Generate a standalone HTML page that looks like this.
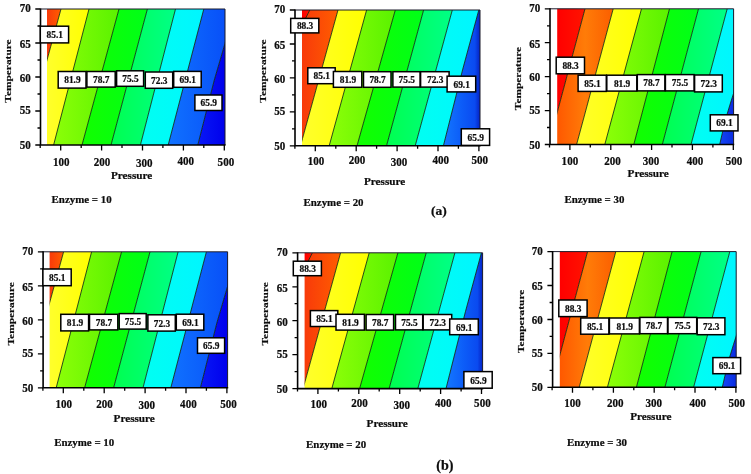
<!DOCTYPE html>
<html><head><meta charset="utf-8"><title>Contour plots</title>
<style>
html,body{margin:0;padding:0;background:#fff;}
svg{display:block;}
text{font-family:"Liberation Serif",serif;font-weight:bold;fill:#0c0c0c;stroke:#0c0c0c;stroke-width:0.22px;}
svg{will-change:transform;}
.t{font-size:11.5px;}
.a{font-size:11.2px;}
.l{font-size:9.9px;}
.y{font-size:11.4px;}
.e{font-size:10.9px;}
.c{font-size:13.5px;}
</style></head><body>
<svg width="751" height="474" viewBox="0 0 751 474">
<rect width="751" height="474" fill="#fff"/>
<defs>
<clipPath id="cp1a"><rect x="47" y="9" width="178" height="136"/></clipPath>
<linearGradient id="gp1a0" gradientUnits="userSpaceOnUse" x1="47" y1="0" x2="61" y2="0"><stop offset="0%" stop-color="#f83a0a"/><stop offset="100%" stop-color="#ff5e00"/></linearGradient>
<linearGradient id="gp1a1" gradientUnits="userSpaceOnUse" x1="47" y1="0" x2="89" y2="0"><stop offset="0%" stop-color="#ffff2c"/><stop offset="100%" stop-color="#ffff00"/></linearGradient>
<linearGradient id="gp1a2" gradientUnits="userSpaceOnUse" x1="53.6" y1="0" x2="119" y2="0"><stop offset="0%" stop-color="#8cff08"/><stop offset="100%" stop-color="#5af200"/></linearGradient>
<linearGradient id="gp1a3" gradientUnits="userSpaceOnUse" x1="82" y1="0" x2="147.4" y2="0"><stop offset="0%" stop-color="#12ff00"/><stop offset="100%" stop-color="#00ff18"/></linearGradient>
<linearGradient id="gp1a4" gradientUnits="userSpaceOnUse" x1="111" y1="0" x2="175.5" y2="0"><stop offset="0%" stop-color="#00ff50"/><stop offset="100%" stop-color="#00ff86"/></linearGradient>
<linearGradient id="gp1a5" gradientUnits="userSpaceOnUse" x1="140.4" y1="0" x2="203.8" y2="0"><stop offset="0%" stop-color="#00fff2"/><stop offset="100%" stop-color="#00f6ff"/></linearGradient>
<linearGradient id="gp1a6" gradientUnits="userSpaceOnUse" x1="168.2" y1="0" x2="225" y2="0"><stop offset="0%" stop-color="#1072ff"/><stop offset="100%" stop-color="#0850f8"/></linearGradient>
<linearGradient id="gp1a7" gradientUnits="userSpaceOnUse" x1="197.8" y1="0" x2="225" y2="0"><stop offset="0%" stop-color="#0818f6"/><stop offset="100%" stop-color="#0000ec"/></linearGradient>
<clipPath id="cp2a"><rect x="302" y="10" width="178" height="135.8"/></clipPath>
<linearGradient id="gp2a0" gradientUnits="userSpaceOnUse" x1="302" y1="0" x2="309.8" y2="0"><stop offset="0%" stop-color="#ff0000"/><stop offset="100%" stop-color="#ff1400"/></linearGradient>
<linearGradient id="gp2a1" gradientUnits="userSpaceOnUse" x1="302" y1="0" x2="338" y2="0"><stop offset="0%" stop-color="#f83a0a"/><stop offset="100%" stop-color="#ff5e00"/></linearGradient>
<linearGradient id="gp2a2" gradientUnits="userSpaceOnUse" x1="302" y1="0" x2="366.6" y2="0"><stop offset="0%" stop-color="#ffff2c"/><stop offset="100%" stop-color="#ffff00"/></linearGradient>
<linearGradient id="gp2a3" gradientUnits="userSpaceOnUse" x1="329.2" y1="0" x2="395.3" y2="0"><stop offset="0%" stop-color="#8cff08"/><stop offset="100%" stop-color="#5af200"/></linearGradient>
<linearGradient id="gp2a4" gradientUnits="userSpaceOnUse" x1="357" y1="0" x2="423.6" y2="0"><stop offset="0%" stop-color="#12ff00"/><stop offset="100%" stop-color="#00ff18"/></linearGradient>
<linearGradient id="gp2a5" gradientUnits="userSpaceOnUse" x1="386.5" y1="0" x2="452.3" y2="0"><stop offset="0%" stop-color="#00ff50"/><stop offset="100%" stop-color="#00ff86"/></linearGradient>
<linearGradient id="gp2a6" gradientUnits="userSpaceOnUse" x1="415.2" y1="0" x2="478.8" y2="0"><stop offset="0%" stop-color="#00fff2"/><stop offset="100%" stop-color="#00f6ff"/></linearGradient>
<linearGradient id="gp2a7" gradientUnits="userSpaceOnUse" x1="443.4" y1="0" x2="480" y2="0"><stop offset="0%" stop-color="#1478ff"/><stop offset="50%" stop-color="#0c5cf8"/><stop offset="86%" stop-color="#0a4af0"/><stop offset="100%" stop-color="#0422c4"/></linearGradient>
<clipPath id="cp3a"><rect x="557.2" y="8.8" width="176.4" height="135.7"/></clipPath>
<linearGradient id="gp3a0" gradientUnits="userSpaceOnUse" x1="557.2" y1="0" x2="585" y2="0"><stop offset="0%" stop-color="#ff0000"/><stop offset="100%" stop-color="#ff1400"/></linearGradient>
<linearGradient id="gp3a1" gradientUnits="userSpaceOnUse" x1="557.2" y1="0" x2="613.2" y2="0"><stop offset="0%" stop-color="#ff5800"/><stop offset="50%" stop-color="#ff7c08"/><stop offset="100%" stop-color="#fb5e00"/></linearGradient>
<linearGradient id="gp3a2" gradientUnits="userSpaceOnUse" x1="576.6" y1="0" x2="641.5" y2="0"><stop offset="0%" stop-color="#ffff2c"/><stop offset="100%" stop-color="#ffff00"/></linearGradient>
<linearGradient id="gp3a3" gradientUnits="userSpaceOnUse" x1="604.8" y1="0" x2="669.5" y2="0"><stop offset="0%" stop-color="#8cff08"/><stop offset="100%" stop-color="#5af200"/></linearGradient>
<linearGradient id="gp3a4" gradientUnits="userSpaceOnUse" x1="633.8" y1="0" x2="698.5" y2="0"><stop offset="0%" stop-color="#12ff00"/><stop offset="100%" stop-color="#00ff18"/></linearGradient>
<linearGradient id="gp3a5" gradientUnits="userSpaceOnUse" x1="662.3" y1="0" x2="727.2" y2="0"><stop offset="0%" stop-color="#00ff50"/><stop offset="100%" stop-color="#00ff86"/></linearGradient>
<linearGradient id="gp3a6" gradientUnits="userSpaceOnUse" x1="691" y1="0" x2="733.6" y2="0"><stop offset="0%" stop-color="#00fff2"/><stop offset="100%" stop-color="#00f6ff"/></linearGradient>
<linearGradient id="gp3a7" gradientUnits="userSpaceOnUse" x1="719.7" y1="0" x2="733.6" y2="0"><stop offset="0%" stop-color="#1446f4"/><stop offset="100%" stop-color="#0a2ce2"/></linearGradient>
<clipPath id="cp1b"><rect x="49.6" y="251.8" width="178" height="136"/></clipPath>
<linearGradient id="gp1b0" gradientUnits="userSpaceOnUse" x1="49.6" y1="0" x2="63.6" y2="0"><stop offset="0%" stop-color="#f83a0a"/><stop offset="100%" stop-color="#ff5e00"/></linearGradient>
<linearGradient id="gp1b1" gradientUnits="userSpaceOnUse" x1="49.6" y1="0" x2="91.6" y2="0"><stop offset="0%" stop-color="#ffff2c"/><stop offset="100%" stop-color="#ffff00"/></linearGradient>
<linearGradient id="gp1b2" gradientUnits="userSpaceOnUse" x1="56.2" y1="0" x2="121.6" y2="0"><stop offset="0%" stop-color="#8cff08"/><stop offset="100%" stop-color="#5af200"/></linearGradient>
<linearGradient id="gp1b3" gradientUnits="userSpaceOnUse" x1="84.6" y1="0" x2="150" y2="0"><stop offset="0%" stop-color="#12ff00"/><stop offset="100%" stop-color="#00ff18"/></linearGradient>
<linearGradient id="gp1b4" gradientUnits="userSpaceOnUse" x1="113.6" y1="0" x2="178.1" y2="0"><stop offset="0%" stop-color="#00ff50"/><stop offset="100%" stop-color="#00ff86"/></linearGradient>
<linearGradient id="gp1b5" gradientUnits="userSpaceOnUse" x1="143" y1="0" x2="206.4" y2="0"><stop offset="0%" stop-color="#00fff2"/><stop offset="100%" stop-color="#00f6ff"/></linearGradient>
<linearGradient id="gp1b6" gradientUnits="userSpaceOnUse" x1="170.8" y1="0" x2="227.6" y2="0"><stop offset="0%" stop-color="#1072ff"/><stop offset="100%" stop-color="#0850f8"/></linearGradient>
<linearGradient id="gp1b7" gradientUnits="userSpaceOnUse" x1="200.4" y1="0" x2="227.6" y2="0"><stop offset="0%" stop-color="#0818f6"/><stop offset="100%" stop-color="#0000ec"/></linearGradient>
<clipPath id="cp2b"><rect x="304.6" y="252.8" width="178" height="135.8"/></clipPath>
<linearGradient id="gp2b0" gradientUnits="userSpaceOnUse" x1="304.6" y1="0" x2="312.4" y2="0"><stop offset="0%" stop-color="#ff0000"/><stop offset="100%" stop-color="#ff1400"/></linearGradient>
<linearGradient id="gp2b1" gradientUnits="userSpaceOnUse" x1="304.6" y1="0" x2="340.6" y2="0"><stop offset="0%" stop-color="#f83a0a"/><stop offset="100%" stop-color="#ff5e00"/></linearGradient>
<linearGradient id="gp2b2" gradientUnits="userSpaceOnUse" x1="304.6" y1="0" x2="369.2" y2="0"><stop offset="0%" stop-color="#ffff2c"/><stop offset="100%" stop-color="#ffff00"/></linearGradient>
<linearGradient id="gp2b3" gradientUnits="userSpaceOnUse" x1="331.8" y1="0" x2="397.9" y2="0"><stop offset="0%" stop-color="#8cff08"/><stop offset="100%" stop-color="#5af200"/></linearGradient>
<linearGradient id="gp2b4" gradientUnits="userSpaceOnUse" x1="359.6" y1="0" x2="426.2" y2="0"><stop offset="0%" stop-color="#12ff00"/><stop offset="100%" stop-color="#00ff18"/></linearGradient>
<linearGradient id="gp2b5" gradientUnits="userSpaceOnUse" x1="389.1" y1="0" x2="454.9" y2="0"><stop offset="0%" stop-color="#00ff50"/><stop offset="100%" stop-color="#00ff86"/></linearGradient>
<linearGradient id="gp2b6" gradientUnits="userSpaceOnUse" x1="417.8" y1="0" x2="481.4" y2="0"><stop offset="0%" stop-color="#00fff2"/><stop offset="100%" stop-color="#00f6ff"/></linearGradient>
<linearGradient id="gp2b7" gradientUnits="userSpaceOnUse" x1="446" y1="0" x2="482.6" y2="0"><stop offset="0%" stop-color="#1478ff"/><stop offset="50%" stop-color="#0c5cf8"/><stop offset="86%" stop-color="#0a4af0"/><stop offset="100%" stop-color="#0422c4"/></linearGradient>
<clipPath id="cp3b"><rect x="559.8" y="251.6" width="176.4" height="135.7"/></clipPath>
<linearGradient id="gp3b0" gradientUnits="userSpaceOnUse" x1="559.8" y1="0" x2="587.6" y2="0"><stop offset="0%" stop-color="#ff0000"/><stop offset="100%" stop-color="#ff1400"/></linearGradient>
<linearGradient id="gp3b1" gradientUnits="userSpaceOnUse" x1="559.8" y1="0" x2="615.8" y2="0"><stop offset="0%" stop-color="#ff5800"/><stop offset="50%" stop-color="#ff7c08"/><stop offset="100%" stop-color="#fb5e00"/></linearGradient>
<linearGradient id="gp3b2" gradientUnits="userSpaceOnUse" x1="579.2" y1="0" x2="644.1" y2="0"><stop offset="0%" stop-color="#ffff2c"/><stop offset="100%" stop-color="#ffff00"/></linearGradient>
<linearGradient id="gp3b3" gradientUnits="userSpaceOnUse" x1="607.4" y1="0" x2="672.1" y2="0"><stop offset="0%" stop-color="#8cff08"/><stop offset="100%" stop-color="#5af200"/></linearGradient>
<linearGradient id="gp3b4" gradientUnits="userSpaceOnUse" x1="636.4" y1="0" x2="701.1" y2="0"><stop offset="0%" stop-color="#12ff00"/><stop offset="100%" stop-color="#00ff18"/></linearGradient>
<linearGradient id="gp3b5" gradientUnits="userSpaceOnUse" x1="664.9" y1="0" x2="729.8" y2="0"><stop offset="0%" stop-color="#00ff50"/><stop offset="100%" stop-color="#00ff86"/></linearGradient>
<linearGradient id="gp3b6" gradientUnits="userSpaceOnUse" x1="693.6" y1="0" x2="736.2" y2="0"><stop offset="0%" stop-color="#00fff2"/><stop offset="100%" stop-color="#00f6ff"/></linearGradient>
<linearGradient id="gp3b7" gradientUnits="userSpaceOnUse" x1="722.3" y1="0" x2="736.2" y2="0"><stop offset="0%" stop-color="#1446f4"/><stop offset="100%" stop-color="#0a2ce2"/></linearGradient>
</defs>
<g clip-path="url(#cp1a)">
<polygon fill="url(#gp1a0)" points="7,150 7,4 61,9 47,60 23.7,145"/>
<polygon fill="url(#gp1a1)" points="23.7,145 47,60 61,9 89,9 53.6,145"/>
<polygon fill="url(#gp1a2)" points="53.6,145 89,9 119,9 82,145"/>
<polygon fill="url(#gp1a3)" points="82,145 119,9 147.4,9 111,145"/>
<polygon fill="url(#gp1a4)" points="111,145 147.4,9 175.5,9 140.4,145"/>
<polygon fill="url(#gp1a5)" points="140.4,145 175.5,9 203.8,9 168.2,145"/>
<polygon fill="url(#gp1a6)" points="168.2,145 203.8,9 233,9 225,43.5 214.3,80 197.8,145"/>
<polygon fill="url(#gp1a7)" points="197.8,145 214.3,80 225,43.5 233,9 285,4 285,150"/>
<polyline fill="none" stroke="#062006" stroke-opacity="0.9" stroke-width="0.9" points="23.7,145 47,60 61,9"/>
<polyline fill="none" stroke="#062006" stroke-opacity="0.9" stroke-width="0.9" points="53.6,145 89,9"/>
<polyline fill="none" stroke="#062006" stroke-opacity="0.9" stroke-width="0.9" points="82,145 119,9"/>
<polyline fill="none" stroke="#062006" stroke-opacity="0.9" stroke-width="0.9" points="111,145 147.4,9"/>
<polyline fill="none" stroke="#062006" stroke-opacity="0.9" stroke-width="0.9" points="140.4,145 175.5,9"/>
<polyline fill="none" stroke="#062006" stroke-opacity="0.9" stroke-width="0.9" points="168.2,145 203.8,9"/>
<polyline fill="none" stroke="#062006" stroke-opacity="0.9" stroke-width="0.9" points="197.8,145 214.3,80 225,43.5 233,9"/>
</g>
<path d="M40.5 9H225V145" fill="none" stroke="#1a1a2a" stroke-width="1"/>
<path d="M40.5 8.5V145H225.6" fill="none" stroke="#000" stroke-width="1.6"/>
<path d="M40.5 9h-5.2M40.5 26h-3M40.5 43h-5.2M40.5 60h-3M40.5 77h-5.2M40.5 94h-3M40.5 111h-5.2M40.5 128h-3M40.5 145h-5.2M40.2 145v3M60.7 145v5.4M81.2 145v3M101.6 145v5.4M122 145v3M142.5 145v5.4M162.9 145v3M183.4 145v5.4M203.8 145v3M224.3 145v5.4" stroke="#000" stroke-width="1.3" fill="none"/>
<text class="t" transform="translate(30.7 12.1) scale(0.96 1)" text-anchor="end">70</text>
<text class="t" transform="translate(30.7 47.8) scale(0.96 1)" text-anchor="end">65</text>
<text class="t" transform="translate(30.7 81.8) scale(0.96 1)" text-anchor="end">60</text>
<text class="t" transform="translate(30.7 114.4) scale(0.96 1)" text-anchor="end">55</text>
<text class="t" transform="translate(30.7 149) scale(0.96 1)" text-anchor="end">50</text>
<text class="t" transform="translate(61.2 165.5) scale(0.96 1)" text-anchor="middle">100</text>
<text class="t" transform="translate(102 165.5) scale(0.96 1)" text-anchor="middle">200</text>
<text class="t" transform="translate(144.2 166.5) scale(0.96 1)" text-anchor="middle">300</text>
<text class="t" transform="translate(185.8 164.7) scale(0.96 1)" text-anchor="middle">400</text>
<text class="t" transform="translate(225.9 165.5) scale(0.96 1)" text-anchor="middle">500</text>
<text class="a" x="111" y="179">Pressure</text>
<text class="y" transform="translate(11.3 71) rotate(-90) scale(1 0.8)" text-anchor="middle">Temperature</text>
<text class="e" x="51.6" y="203">Enzyme = 10</text>
<rect x="40.3" y="26.2" width="28.3" height="16.7" fill="#fff" stroke="#000" stroke-width="1.5"/>
<text class="l" transform="translate(54.8 38.1) scale(0.95 1)" text-anchor="middle">85.1</text>
<rect x="58.2" y="71.5" width="27.8" height="16.6" fill="#fff" stroke="#000" stroke-width="1.5"/>
<text class="l" transform="translate(72.4 83.4) scale(0.95 1)" text-anchor="middle">81.9</text>
<rect x="86.9" y="71.5" width="28.3" height="15.6" fill="#fff" stroke="#000" stroke-width="1.5"/>
<text class="l" transform="translate(101.3 82.9) scale(0.95 1)" text-anchor="middle">78.7</text>
<rect x="116.6" y="70.8" width="27" height="15.5" fill="#fff" stroke="#000" stroke-width="1.5"/>
<text class="l" transform="translate(130.4 82.1) scale(0.95 1)" text-anchor="middle">75.5</text>
<rect x="145.3" y="72" width="27.4" height="16.3" fill="#fff" stroke="#000" stroke-width="1.5"/>
<text class="l" transform="translate(159.3 83.8) scale(0.95 1)" text-anchor="middle">72.3</text>
<rect x="173.7" y="71.4" width="27.5" height="15.9" fill="#fff" stroke="#000" stroke-width="1.5"/>
<text class="l" transform="translate(187.8 82.9) scale(0.95 1)" text-anchor="middle">69.1</text>
<rect x="194.9" y="95" width="27.1" height="15.5" fill="#fff" stroke="#000" stroke-width="1.5"/>
<text class="l" transform="translate(208.8 106.3) scale(0.95 1)" text-anchor="middle">65.9</text>
<g clip-path="url(#cp2a)">
<polygon fill="url(#gp2a0)" points="262,150.8 262,5 309.8,10 305.5,18.5 302,30 301,33"/>
<polygon fill="url(#gp2a1)" points="301,33 302,30 305.5,18.5 309.8,10 338,10 302.5,138.5 300.5,145.8"/>
<polygon fill="url(#gp2a2)" points="300.5,145.8 302.5,138.5 338,10 366.6,10 329.2,145.8"/>
<polygon fill="url(#gp2a3)" points="329.2,145.8 366.6,10 395.3,10 357,145.8"/>
<polygon fill="url(#gp2a4)" points="357,145.8 395.3,10 423.6,10 386.5,145.8"/>
<polygon fill="url(#gp2a5)" points="386.5,145.8 423.6,10 452.3,10 415.2,145.8"/>
<polygon fill="url(#gp2a6)" points="415.2,145.8 452.3,10 478.8,10 462.8,69 443.4,145.8"/>
<polygon fill="url(#gp2a7)" points="443.4,145.8 462.8,69 478.8,10 540,5 540,150.8"/>
<polyline fill="none" stroke="#062006" stroke-opacity="0.9" stroke-width="0.9" points="301,33 302,30 305.5,18.5 309.8,10"/>
<polyline fill="none" stroke="#062006" stroke-opacity="0.9" stroke-width="0.9" points="300.5,145.8 302.5,138.5 338,10"/>
<polyline fill="none" stroke="#062006" stroke-opacity="0.9" stroke-width="0.9" points="329.2,145.8 366.6,10"/>
<polyline fill="none" stroke="#062006" stroke-opacity="0.9" stroke-width="0.9" points="357,145.8 395.3,10"/>
<polyline fill="none" stroke="#062006" stroke-opacity="0.9" stroke-width="0.9" points="386.5,145.8 423.6,10"/>
<polyline fill="none" stroke="#062006" stroke-opacity="0.9" stroke-width="0.9" points="415.2,145.8 452.3,10"/>
<polyline fill="none" stroke="#062006" stroke-opacity="0.9" stroke-width="0.9" points="443.4,145.8 462.8,69 478.8,10"/>
</g>
<path d="M295 10H480V145.8" fill="none" stroke="#1a1a2a" stroke-width="1"/>
<path d="M295 9.5V145.8H480.6" fill="none" stroke="#000" stroke-width="1.6"/>
<path d="M295 10h-5.2M295 27h-3M295 44h-5.2M295 60.9h-3M295 77.9h-5.2M295 94.9h-3M295 111.9h-5.2M295 128.8h-3M295 145.8h-5.2M294.9 145.8v3M315.3 145.8v5.4M335.8 145.8v3M356.2 145.8v5.4M376.6 145.8v3M397.1 145.8v5.4M417.6 145.8v3M438 145.8v5.4M458.4 145.8v3M478.9 145.8v5.4" stroke="#000" stroke-width="1.3" fill="none"/>
<text class="t" transform="translate(285.2 13.1) scale(0.96 1)" text-anchor="end">70</text>
<text class="t" transform="translate(285.2 48.8) scale(0.96 1)" text-anchor="end">65</text>
<text class="t" transform="translate(285.2 82.7) scale(0.96 1)" text-anchor="end">60</text>
<text class="t" transform="translate(285.2 115.3) scale(0.96 1)" text-anchor="end">55</text>
<text class="t" transform="translate(285.2 149.8) scale(0.96 1)" text-anchor="end">50</text>
<text class="t" transform="translate(316.1 164.8) scale(0.96 1)" text-anchor="middle">100</text>
<text class="t" transform="translate(357 164.4) scale(0.96 1)" text-anchor="middle">200</text>
<text class="t" transform="translate(399.1 166.1) scale(0.96 1)" text-anchor="middle">300</text>
<text class="t" transform="translate(440.7 164.3) scale(0.96 1)" text-anchor="middle">400</text>
<text class="t" transform="translate(479.8 164.4) scale(0.96 1)" text-anchor="middle">500</text>
<text class="a" x="364" y="184.5">Pressure</text>
<text class="y" transform="translate(265.9 71) rotate(-90) scale(1 0.8)" text-anchor="middle">Temperature</text>
<text class="e" x="303.5" y="205.5">Enzyme = 20</text>
<rect x="290.7" y="18.4" width="28.1" height="14.5" fill="#fff" stroke="#000" stroke-width="1.5"/>
<text class="l" transform="translate(305.1 29.2) scale(0.95 1)" text-anchor="middle">88.3</text>
<rect x="307.8" y="67.8" width="27.4" height="15.9" fill="#fff" stroke="#000" stroke-width="1.5"/>
<text class="l" transform="translate(321.8 79.3) scale(0.95 1)" text-anchor="middle">85.1</text>
<rect x="333.4" y="71.5" width="28.4" height="15.8" fill="#fff" stroke="#000" stroke-width="1.5"/>
<text class="l" transform="translate(347.9 83) scale(0.95 1)" text-anchor="middle">81.9</text>
<rect x="363.5" y="71.7" width="27.5" height="15.6" fill="#fff" stroke="#000" stroke-width="1.5"/>
<text class="l" transform="translate(377.6 83.1) scale(0.95 1)" text-anchor="middle">78.7</text>
<rect x="392.9" y="71.7" width="27.2" height="15.4" fill="#fff" stroke="#000" stroke-width="1.5"/>
<text class="l" transform="translate(406.8 83) scale(0.95 1)" text-anchor="middle">75.5</text>
<rect x="420.6" y="71.7" width="28.5" height="15.4" fill="#fff" stroke="#000" stroke-width="1.5"/>
<text class="l" transform="translate(435.2 83) scale(0.95 1)" text-anchor="middle">72.3</text>
<rect x="447.1" y="76.2" width="28.6" height="15.7" fill="#fff" stroke="#000" stroke-width="1.5"/>
<text class="l" transform="translate(461.7 87.6) scale(0.95 1)" text-anchor="middle">69.1</text>
<rect x="461.3" y="128.8" width="28.3" height="16.6" fill="#fff" stroke="#000" stroke-width="1.5"/>
<text class="l" transform="translate(475.8 140.7) scale(0.95 1)" text-anchor="middle">65.9</text>
<g clip-path="url(#cp3a)">
<polygon fill="url(#gp3a0)" points="517.2,149.5 517.2,3.8 585,8.8 557.5,111.3 548.6,144.5"/>
<polygon fill="url(#gp3a1)" points="548.6,144.5 557.5,111.3 585,8.8 613.2,8.8 576.6,144.5"/>
<polygon fill="url(#gp3a2)" points="576.6,144.5 613.2,8.8 641.5,8.8 604.8,144.5"/>
<polygon fill="url(#gp3a3)" points="604.8,144.5 641.5,8.8 669.5,8.8 633.8,144.5"/>
<polygon fill="url(#gp3a4)" points="633.8,144.5 669.5,8.8 698.5,8.8 662.3,144.5"/>
<polygon fill="url(#gp3a5)" points="662.3,144.5 698.5,8.8 727.2,8.8 691,144.5"/>
<polygon fill="url(#gp3a6)" points="691,144.5 727.2,8.8 758,8.8 733.6,93.3 730.8,102 727.1,114.2 722.7,131.4 719.7,144.5"/>
<polygon fill="url(#gp3a7)" points="719.7,144.5 722.7,131.4 727.1,114.2 730.8,102 733.6,93.3 758,8.8 793.6,3.8 793.6,149.5"/>
<polyline fill="none" stroke="#062006" stroke-opacity="0.9" stroke-width="0.9" points="548.6,144.5 557.5,111.3 585,8.8"/>
<polyline fill="none" stroke="#062006" stroke-opacity="0.9" stroke-width="0.9" points="576.6,144.5 613.2,8.8"/>
<polyline fill="none" stroke="#062006" stroke-opacity="0.9" stroke-width="0.9" points="604.8,144.5 641.5,8.8"/>
<polyline fill="none" stroke="#062006" stroke-opacity="0.9" stroke-width="0.9" points="633.8,144.5 669.5,8.8"/>
<polyline fill="none" stroke="#062006" stroke-opacity="0.9" stroke-width="0.9" points="662.3,144.5 698.5,8.8"/>
<polyline fill="none" stroke="#062006" stroke-opacity="0.9" stroke-width="0.9" points="691,144.5 727.2,8.8"/>
<polyline fill="none" stroke="#062006" stroke-opacity="0.9" stroke-width="0.9" points="719.7,144.5 722.7,131.4 727.1,114.2 730.8,102 733.6,93.3 758,8.8"/>
</g>
<path d="M550 8.8H733.6V144.5" fill="none" stroke="#1a1a2a" stroke-width="1"/>
<path d="M550 8.3V144.5H734.2" fill="none" stroke="#000" stroke-width="1.6"/>
<path d="M550 8.8h-5.2M550 25.8h-3M550 42.7h-5.2M550 59.7h-3M550 76.6h-5.2M550 93.6h-3M550 110.6h-5.2M550 127.5h-3M550 144.5h-5.2M549.5 144.5v3M569.9 144.5v5.4M590.3 144.5v3M610.8 144.5v5.4M631.2 144.5v3M651.6 144.5v5.4M672 144.5v3M692.4 144.5v5.4M712.9 144.5v3M733.3 144.5v5.4" stroke="#000" stroke-width="1.3" fill="none"/>
<text class="t" transform="translate(540.2 11.9) scale(0.96 1)" text-anchor="end">70</text>
<text class="t" transform="translate(540.2 47.5) scale(0.96 1)" text-anchor="end">65</text>
<text class="t" transform="translate(540.2 81.4) scale(0.96 1)" text-anchor="end">60</text>
<text class="t" transform="translate(540.2 114) scale(0.96 1)" text-anchor="end">55</text>
<text class="t" transform="translate(540.2 148.5) scale(0.96 1)" text-anchor="end">50</text>
<text class="t" transform="translate(569.9 164.6) scale(0.96 1)" text-anchor="middle">100</text>
<text class="t" transform="translate(612.6 164.6) scale(0.96 1)" text-anchor="middle">200</text>
<text class="t" transform="translate(651.1 164.6) scale(0.96 1)" text-anchor="middle">300</text>
<text class="t" transform="translate(695.1 164.6) scale(0.96 1)" text-anchor="middle">400</text>
<text class="t" transform="translate(734.1 164.6) scale(0.96 1)" text-anchor="middle">500</text>
<text class="a" x="627.6" y="176.8">Pressure</text>
<text class="y" transform="translate(521.4 78.5) rotate(-90) scale(1 0.8)" text-anchor="middle">Temperature</text>
<text class="e" x="564.4" y="203.1">Enzyme = 30</text>
<rect x="556.2" y="57.2" width="28.3" height="16.6" fill="#fff" stroke="#000" stroke-width="1.5"/>
<text class="l" transform="translate(570.6 69.1) scale(0.95 1)" text-anchor="middle">88.3</text>
<rect x="578.1" y="75.2" width="28.2" height="16.2" fill="#fff" stroke="#000" stroke-width="1.5"/>
<text class="l" transform="translate(592.5 86.9) scale(0.95 1)" text-anchor="middle">85.1</text>
<rect x="606.8" y="75.2" width="30" height="15.9" fill="#fff" stroke="#000" stroke-width="1.5"/>
<text class="l" transform="translate(622.1 86.8) scale(0.95 1)" text-anchor="middle">81.9</text>
<rect x="637.3" y="74.6" width="27.6" height="16.3" fill="#fff" stroke="#000" stroke-width="1.5"/>
<text class="l" transform="translate(651.4 86.3) scale(0.95 1)" text-anchor="middle">78.7</text>
<rect x="665.4" y="74.6" width="28.7" height="16.3" fill="#fff" stroke="#000" stroke-width="1.5"/>
<text class="l" transform="translate(680 86.3) scale(0.95 1)" text-anchor="middle">75.5</text>
<rect x="694.6" y="75" width="27.7" height="16.9" fill="#fff" stroke="#000" stroke-width="1.5"/>
<text class="l" transform="translate(708.8 87) scale(0.95 1)" text-anchor="middle">72.3</text>
<rect x="710.3" y="114.8" width="27.7" height="16.1" fill="#fff" stroke="#000" stroke-width="1.5"/>
<text class="l" transform="translate(724.5 126.4) scale(0.95 1)" text-anchor="middle">69.1</text>
<g clip-path="url(#cp1b)">
<polygon fill="url(#gp1b0)" points="9.6,392.8 9.6,246.8 63.6,251.8 49.6,302.8 26.3,387.8"/>
<polygon fill="url(#gp1b1)" points="26.3,387.8 49.6,302.8 63.6,251.8 91.6,251.8 56.2,387.8"/>
<polygon fill="url(#gp1b2)" points="56.2,387.8 91.6,251.8 121.6,251.8 84.6,387.8"/>
<polygon fill="url(#gp1b3)" points="84.6,387.8 121.6,251.8 150,251.8 113.6,387.8"/>
<polygon fill="url(#gp1b4)" points="113.6,387.8 150,251.8 178.1,251.8 143,387.8"/>
<polygon fill="url(#gp1b5)" points="143,387.8 178.1,251.8 206.4,251.8 170.8,387.8"/>
<polygon fill="url(#gp1b6)" points="170.8,387.8 206.4,251.8 235.6,251.8 227.6,286.3 216.9,322.8 200.4,387.8"/>
<polygon fill="url(#gp1b7)" points="200.4,387.8 216.9,322.8 227.6,286.3 235.6,251.8 287.6,246.8 287.6,392.8"/>
<polyline fill="none" stroke="#062006" stroke-opacity="0.9" stroke-width="0.9" points="26.3,387.8 49.6,302.8 63.6,251.8"/>
<polyline fill="none" stroke="#062006" stroke-opacity="0.9" stroke-width="0.9" points="56.2,387.8 91.6,251.8"/>
<polyline fill="none" stroke="#062006" stroke-opacity="0.9" stroke-width="0.9" points="84.6,387.8 121.6,251.8"/>
<polyline fill="none" stroke="#062006" stroke-opacity="0.9" stroke-width="0.9" points="113.6,387.8 150,251.8"/>
<polyline fill="none" stroke="#062006" stroke-opacity="0.9" stroke-width="0.9" points="143,387.8 178.1,251.8"/>
<polyline fill="none" stroke="#062006" stroke-opacity="0.9" stroke-width="0.9" points="170.8,387.8 206.4,251.8"/>
<polyline fill="none" stroke="#062006" stroke-opacity="0.9" stroke-width="0.9" points="200.4,387.8 216.9,322.8 227.6,286.3 235.6,251.8"/>
</g>
<path d="M43.1 251.8H227.6V387.8" fill="none" stroke="#1a1a2a" stroke-width="1"/>
<path d="M43.1 251.3V387.8H228.2" fill="none" stroke="#000" stroke-width="1.6"/>
<path d="M43.1 251.8h-5.2M43.1 268.8h-3M43.1 285.8h-5.2M43.1 302.8h-3M43.1 319.8h-5.2M43.1 336.8h-3M43.1 353.8h-5.2M43.1 370.8h-3M43.1 387.8h-5.2M42.9 387.8v3M63.3 387.8v5.4M83.8 387.8v3M104.2 387.8v5.4M124.7 387.8v3M145.1 387.8v5.4M165.6 387.8v3M186 387.8v5.4M206.4 387.8v3M226.9 387.8v5.4" stroke="#000" stroke-width="1.3" fill="none"/>
<text class="t" transform="translate(33.3 254.9) scale(0.96 1)" text-anchor="end">70</text>
<text class="t" transform="translate(33.3 290.6) scale(0.96 1)" text-anchor="end">65</text>
<text class="t" transform="translate(33.3 324.6) scale(0.96 1)" text-anchor="end">60</text>
<text class="t" transform="translate(33.3 357.2) scale(0.96 1)" text-anchor="end">55</text>
<text class="t" transform="translate(33.3 391.8) scale(0.96 1)" text-anchor="end">50</text>
<text class="t" transform="translate(63.8 408.3) scale(0.96 1)" text-anchor="middle">100</text>
<text class="t" transform="translate(104.6 408.3) scale(0.96 1)" text-anchor="middle">200</text>
<text class="t" transform="translate(146.8 409.3) scale(0.96 1)" text-anchor="middle">300</text>
<text class="t" transform="translate(188.4 407.5) scale(0.96 1)" text-anchor="middle">400</text>
<text class="t" transform="translate(228.5 408.3) scale(0.96 1)" text-anchor="middle">500</text>
<text class="a" x="113.6" y="421.8">Pressure</text>
<text class="y" transform="translate(13.6 313.8) rotate(-90) scale(1 0.8)" text-anchor="middle">Temperature</text>
<text class="e" x="54.2" y="445.8">Enzyme = 10</text>
<rect x="42.9" y="269" width="28.3" height="16.7" fill="#fff" stroke="#000" stroke-width="1.5"/>
<text class="l" transform="translate(57.3 281) scale(0.95 1)" text-anchor="middle">85.1</text>
<rect x="60.8" y="314.3" width="27.8" height="16.6" fill="#fff" stroke="#000" stroke-width="1.5"/>
<text class="l" transform="translate(75 326.2) scale(0.95 1)" text-anchor="middle">81.9</text>
<rect x="89.5" y="314.3" width="28.3" height="15.6" fill="#fff" stroke="#000" stroke-width="1.5"/>
<text class="l" transform="translate(104 325.7) scale(0.95 1)" text-anchor="middle">78.7</text>
<rect x="119.2" y="313.6" width="27" height="15.5" fill="#fff" stroke="#000" stroke-width="1.5"/>
<text class="l" transform="translate(133 325) scale(0.95 1)" text-anchor="middle">75.5</text>
<rect x="147.9" y="314.8" width="27.4" height="16.3" fill="#fff" stroke="#000" stroke-width="1.5"/>
<text class="l" transform="translate(161.9 326.6) scale(0.95 1)" text-anchor="middle">72.3</text>
<rect x="176.3" y="314.2" width="27.5" height="15.9" fill="#fff" stroke="#000" stroke-width="1.5"/>
<text class="l" transform="translate(190.4 325.8) scale(0.95 1)" text-anchor="middle">69.1</text>
<rect x="197.5" y="337.8" width="27.1" height="15.5" fill="#fff" stroke="#000" stroke-width="1.5"/>
<text class="l" transform="translate(211.3 349.2) scale(0.95 1)" text-anchor="middle">65.9</text>
<g clip-path="url(#cp2b)">
<polygon fill="url(#gp2b0)" points="264.6,393.6 264.6,247.8 312.4,252.8 308.1,261.3 304.6,272.8 303.6,275.8"/>
<polygon fill="url(#gp2b1)" points="303.6,275.8 304.6,272.8 308.1,261.3 312.4,252.8 340.6,252.8 305.1,381.3 303.1,388.6"/>
<polygon fill="url(#gp2b2)" points="303.1,388.6 305.1,381.3 340.6,252.8 369.2,252.8 331.8,388.6"/>
<polygon fill="url(#gp2b3)" points="331.8,388.6 369.2,252.8 397.9,252.8 359.6,388.6"/>
<polygon fill="url(#gp2b4)" points="359.6,388.6 397.9,252.8 426.2,252.8 389.1,388.6"/>
<polygon fill="url(#gp2b5)" points="389.1,388.6 426.2,252.8 454.9,252.8 417.8,388.6"/>
<polygon fill="url(#gp2b6)" points="417.8,388.6 454.9,252.8 481.4,252.8 465.4,311.8 446,388.6"/>
<polygon fill="url(#gp2b7)" points="446,388.6 465.4,311.8 481.4,252.8 542.6,247.8 542.6,393.6"/>
<polyline fill="none" stroke="#062006" stroke-opacity="0.9" stroke-width="0.9" points="303.6,275.8 304.6,272.8 308.1,261.3 312.4,252.8"/>
<polyline fill="none" stroke="#062006" stroke-opacity="0.9" stroke-width="0.9" points="303.1,388.6 305.1,381.3 340.6,252.8"/>
<polyline fill="none" stroke="#062006" stroke-opacity="0.9" stroke-width="0.9" points="331.8,388.6 369.2,252.8"/>
<polyline fill="none" stroke="#062006" stroke-opacity="0.9" stroke-width="0.9" points="359.6,388.6 397.9,252.8"/>
<polyline fill="none" stroke="#062006" stroke-opacity="0.9" stroke-width="0.9" points="389.1,388.6 426.2,252.8"/>
<polyline fill="none" stroke="#062006" stroke-opacity="0.9" stroke-width="0.9" points="417.8,388.6 454.9,252.8"/>
<polyline fill="none" stroke="#062006" stroke-opacity="0.9" stroke-width="0.9" points="446,388.6 465.4,311.8 481.4,252.8"/>
</g>
<path d="M297.6 252.8H482.6V388.6" fill="none" stroke="#1a1a2a" stroke-width="1"/>
<path d="M297.6 252.3V388.6H483.2" fill="none" stroke="#000" stroke-width="1.6"/>
<path d="M297.6 252.8h-5.2M297.6 269.8h-3M297.6 286.8h-5.2M297.6 303.7h-3M297.6 320.7h-5.2M297.6 337.7h-3M297.6 354.7h-5.2M297.6 371.6h-3M297.6 388.6h-5.2M297.5 388.6v3M317.9 388.6v5.4M338.4 388.6v3M358.8 388.6v5.4M379.2 388.6v3M399.7 388.6v5.4M420.2 388.6v3M440.6 388.6v5.4M461.1 388.6v3M481.5 388.6v5.4" stroke="#000" stroke-width="1.3" fill="none"/>
<text class="t" transform="translate(287.8 255.9) scale(0.96 1)" text-anchor="end">70</text>
<text class="t" transform="translate(287.8 291.6) scale(0.96 1)" text-anchor="end">65</text>
<text class="t" transform="translate(287.8 325.5) scale(0.96 1)" text-anchor="end">60</text>
<text class="t" transform="translate(287.8 358.1) scale(0.96 1)" text-anchor="end">55</text>
<text class="t" transform="translate(287.8 392.6) scale(0.96 1)" text-anchor="end">50</text>
<text class="t" transform="translate(318.7 407.6) scale(0.96 1)" text-anchor="middle">100</text>
<text class="t" transform="translate(359.6 407.2) scale(0.96 1)" text-anchor="middle">200</text>
<text class="t" transform="translate(401.7 408.9) scale(0.96 1)" text-anchor="middle">300</text>
<text class="t" transform="translate(443.3 407.1) scale(0.96 1)" text-anchor="middle">400</text>
<text class="t" transform="translate(482.4 407.2) scale(0.96 1)" text-anchor="middle">500</text>
<text class="a" x="366.6" y="427.3">Pressure</text>
<text class="y" transform="translate(268.2 313.8) rotate(-90) scale(1 0.8)" text-anchor="middle">Temperature</text>
<text class="e" x="306.1" y="448.3">Enzyme = 20</text>
<rect x="293.3" y="261.2" width="28.1" height="14.5" fill="#fff" stroke="#000" stroke-width="1.5"/>
<text class="l" transform="translate(307.7 272.1) scale(0.95 1)" text-anchor="middle">88.3</text>
<rect x="310.4" y="310.6" width="27.4" height="15.9" fill="#fff" stroke="#000" stroke-width="1.5"/>
<text class="l" transform="translate(324.4 322.1) scale(0.95 1)" text-anchor="middle">85.1</text>
<rect x="336" y="314.3" width="28.4" height="15.8" fill="#fff" stroke="#000" stroke-width="1.5"/>
<text class="l" transform="translate(350.5 325.8) scale(0.95 1)" text-anchor="middle">81.9</text>
<rect x="366.1" y="314.5" width="27.5" height="15.6" fill="#fff" stroke="#000" stroke-width="1.5"/>
<text class="l" transform="translate(380.2 325.9) scale(0.95 1)" text-anchor="middle">78.7</text>
<rect x="395.5" y="314.5" width="27.2" height="15.4" fill="#fff" stroke="#000" stroke-width="1.5"/>
<text class="l" transform="translate(409.4 325.8) scale(0.95 1)" text-anchor="middle">75.5</text>
<rect x="423.2" y="314.5" width="28.5" height="15.4" fill="#fff" stroke="#000" stroke-width="1.5"/>
<text class="l" transform="translate(437.8 325.8) scale(0.95 1)" text-anchor="middle">72.3</text>
<rect x="449.7" y="319" width="28.6" height="15.7" fill="#fff" stroke="#000" stroke-width="1.5"/>
<text class="l" transform="translate(464.3 330.5) scale(0.95 1)" text-anchor="middle">69.1</text>
<rect x="463.9" y="371.6" width="28.3" height="16.6" fill="#fff" stroke="#000" stroke-width="1.5"/>
<text class="l" transform="translate(478.4 383.5) scale(0.95 1)" text-anchor="middle">65.9</text>
<g clip-path="url(#cp3b)">
<polygon fill="url(#gp3b0)" points="519.8,392.3 519.8,246.6 587.6,251.6 560.1,354.1 551.2,387.3"/>
<polygon fill="url(#gp3b1)" points="551.2,387.3 560.1,354.1 587.6,251.6 615.8,251.6 579.2,387.3"/>
<polygon fill="url(#gp3b2)" points="579.2,387.3 615.8,251.6 644.1,251.6 607.4,387.3"/>
<polygon fill="url(#gp3b3)" points="607.4,387.3 644.1,251.6 672.1,251.6 636.4,387.3"/>
<polygon fill="url(#gp3b4)" points="636.4,387.3 672.1,251.6 701.1,251.6 664.9,387.3"/>
<polygon fill="url(#gp3b5)" points="664.9,387.3 701.1,251.6 729.8,251.6 693.6,387.3"/>
<polygon fill="url(#gp3b6)" points="693.6,387.3 729.8,251.6 760.6,251.6 736.2,336.1 733.4,344.8 729.7,357 725.3,374.2 722.3,387.3"/>
<polygon fill="url(#gp3b7)" points="722.3,387.3 725.3,374.2 729.7,357 733.4,344.8 736.2,336.1 760.6,251.6 796.2,246.6 796.2,392.3"/>
<polyline fill="none" stroke="#062006" stroke-opacity="0.9" stroke-width="0.9" points="551.2,387.3 560.1,354.1 587.6,251.6"/>
<polyline fill="none" stroke="#062006" stroke-opacity="0.9" stroke-width="0.9" points="579.2,387.3 615.8,251.6"/>
<polyline fill="none" stroke="#062006" stroke-opacity="0.9" stroke-width="0.9" points="607.4,387.3 644.1,251.6"/>
<polyline fill="none" stroke="#062006" stroke-opacity="0.9" stroke-width="0.9" points="636.4,387.3 672.1,251.6"/>
<polyline fill="none" stroke="#062006" stroke-opacity="0.9" stroke-width="0.9" points="664.9,387.3 701.1,251.6"/>
<polyline fill="none" stroke="#062006" stroke-opacity="0.9" stroke-width="0.9" points="693.6,387.3 729.8,251.6"/>
<polyline fill="none" stroke="#062006" stroke-opacity="0.9" stroke-width="0.9" points="722.3,387.3 725.3,374.2 729.7,357 733.4,344.8 736.2,336.1 760.6,251.6"/>
</g>
<path d="M552.6 251.6H736.2V387.3" fill="none" stroke="#1a1a2a" stroke-width="1"/>
<path d="M552.6 251.1V387.3H736.8" fill="none" stroke="#000" stroke-width="1.6"/>
<path d="M552.6 251.6h-5.2M552.6 268.6h-3M552.6 285.5h-5.2M552.6 302.5h-3M552.6 319.5h-5.2M552.6 336.4h-3M552.6 353.4h-5.2M552.6 370.3h-3M552.6 387.3h-5.2M552.1 387.3v3M572.5 387.3v5.4M592.9 387.3v3M613.4 387.3v5.4M633.8 387.3v3M654.2 387.3v5.4M674.6 387.3v3M695 387.3v5.4M715.5 387.3v3M735.9 387.3v5.4" stroke="#000" stroke-width="1.3" fill="none"/>
<text class="t" transform="translate(542.8 254.7) scale(0.96 1)" text-anchor="end">70</text>
<text class="t" transform="translate(542.8 290.3) scale(0.96 1)" text-anchor="end">65</text>
<text class="t" transform="translate(542.8 324.3) scale(0.96 1)" text-anchor="end">60</text>
<text class="t" transform="translate(542.8 356.8) scale(0.96 1)" text-anchor="end">55</text>
<text class="t" transform="translate(542.8 391.3) scale(0.96 1)" text-anchor="end">50</text>
<text class="t" transform="translate(572.5 407.4) scale(0.96 1)" text-anchor="middle">100</text>
<text class="t" transform="translate(615.2 407.4) scale(0.96 1)" text-anchor="middle">200</text>
<text class="t" transform="translate(653.7 407.4) scale(0.96 1)" text-anchor="middle">300</text>
<text class="t" transform="translate(697.8 407.4) scale(0.96 1)" text-anchor="middle">400</text>
<text class="t" transform="translate(736.7 407.4) scale(0.96 1)" text-anchor="middle">500</text>
<text class="a" x="630.2" y="419.6">Pressure</text>
<text class="y" transform="translate(523.7 321.3) rotate(-90) scale(1 0.8)" text-anchor="middle">Temperature</text>
<text class="e" x="567" y="445.9">Enzyme = 30</text>
<rect x="558.8" y="300" width="28.3" height="16.6" fill="#fff" stroke="#000" stroke-width="1.5"/>
<text class="l" transform="translate(573.2 311.9) scale(0.95 1)" text-anchor="middle">88.3</text>
<rect x="580.7" y="318" width="28.2" height="16.2" fill="#fff" stroke="#000" stroke-width="1.5"/>
<text class="l" transform="translate(595.1 329.7) scale(0.95 1)" text-anchor="middle">85.1</text>
<rect x="609.4" y="318" width="30" height="15.9" fill="#fff" stroke="#000" stroke-width="1.5"/>
<text class="l" transform="translate(624.7 329.6) scale(0.95 1)" text-anchor="middle">81.9</text>
<rect x="639.9" y="317.4" width="27.6" height="16.3" fill="#fff" stroke="#000" stroke-width="1.5"/>
<text class="l" transform="translate(654 329.2) scale(0.95 1)" text-anchor="middle">78.7</text>
<rect x="668" y="317.4" width="28.7" height="16.3" fill="#fff" stroke="#000" stroke-width="1.5"/>
<text class="l" transform="translate(682.6 329.2) scale(0.95 1)" text-anchor="middle">75.5</text>
<rect x="697.2" y="317.8" width="27.7" height="16.9" fill="#fff" stroke="#000" stroke-width="1.5"/>
<text class="l" transform="translate(711.3 329.9) scale(0.95 1)" text-anchor="middle">72.3</text>
<rect x="712.9" y="357.6" width="27.7" height="16.1" fill="#fff" stroke="#000" stroke-width="1.5"/>
<text class="l" transform="translate(727 369.2) scale(0.95 1)" text-anchor="middle">69.1</text>
<text class="c" x="430.9" y="215.2">(a)</text>
<text class="c" style="font-size:14.1px" x="436.2" y="470">(b)</text>
</svg>
</body></html>
